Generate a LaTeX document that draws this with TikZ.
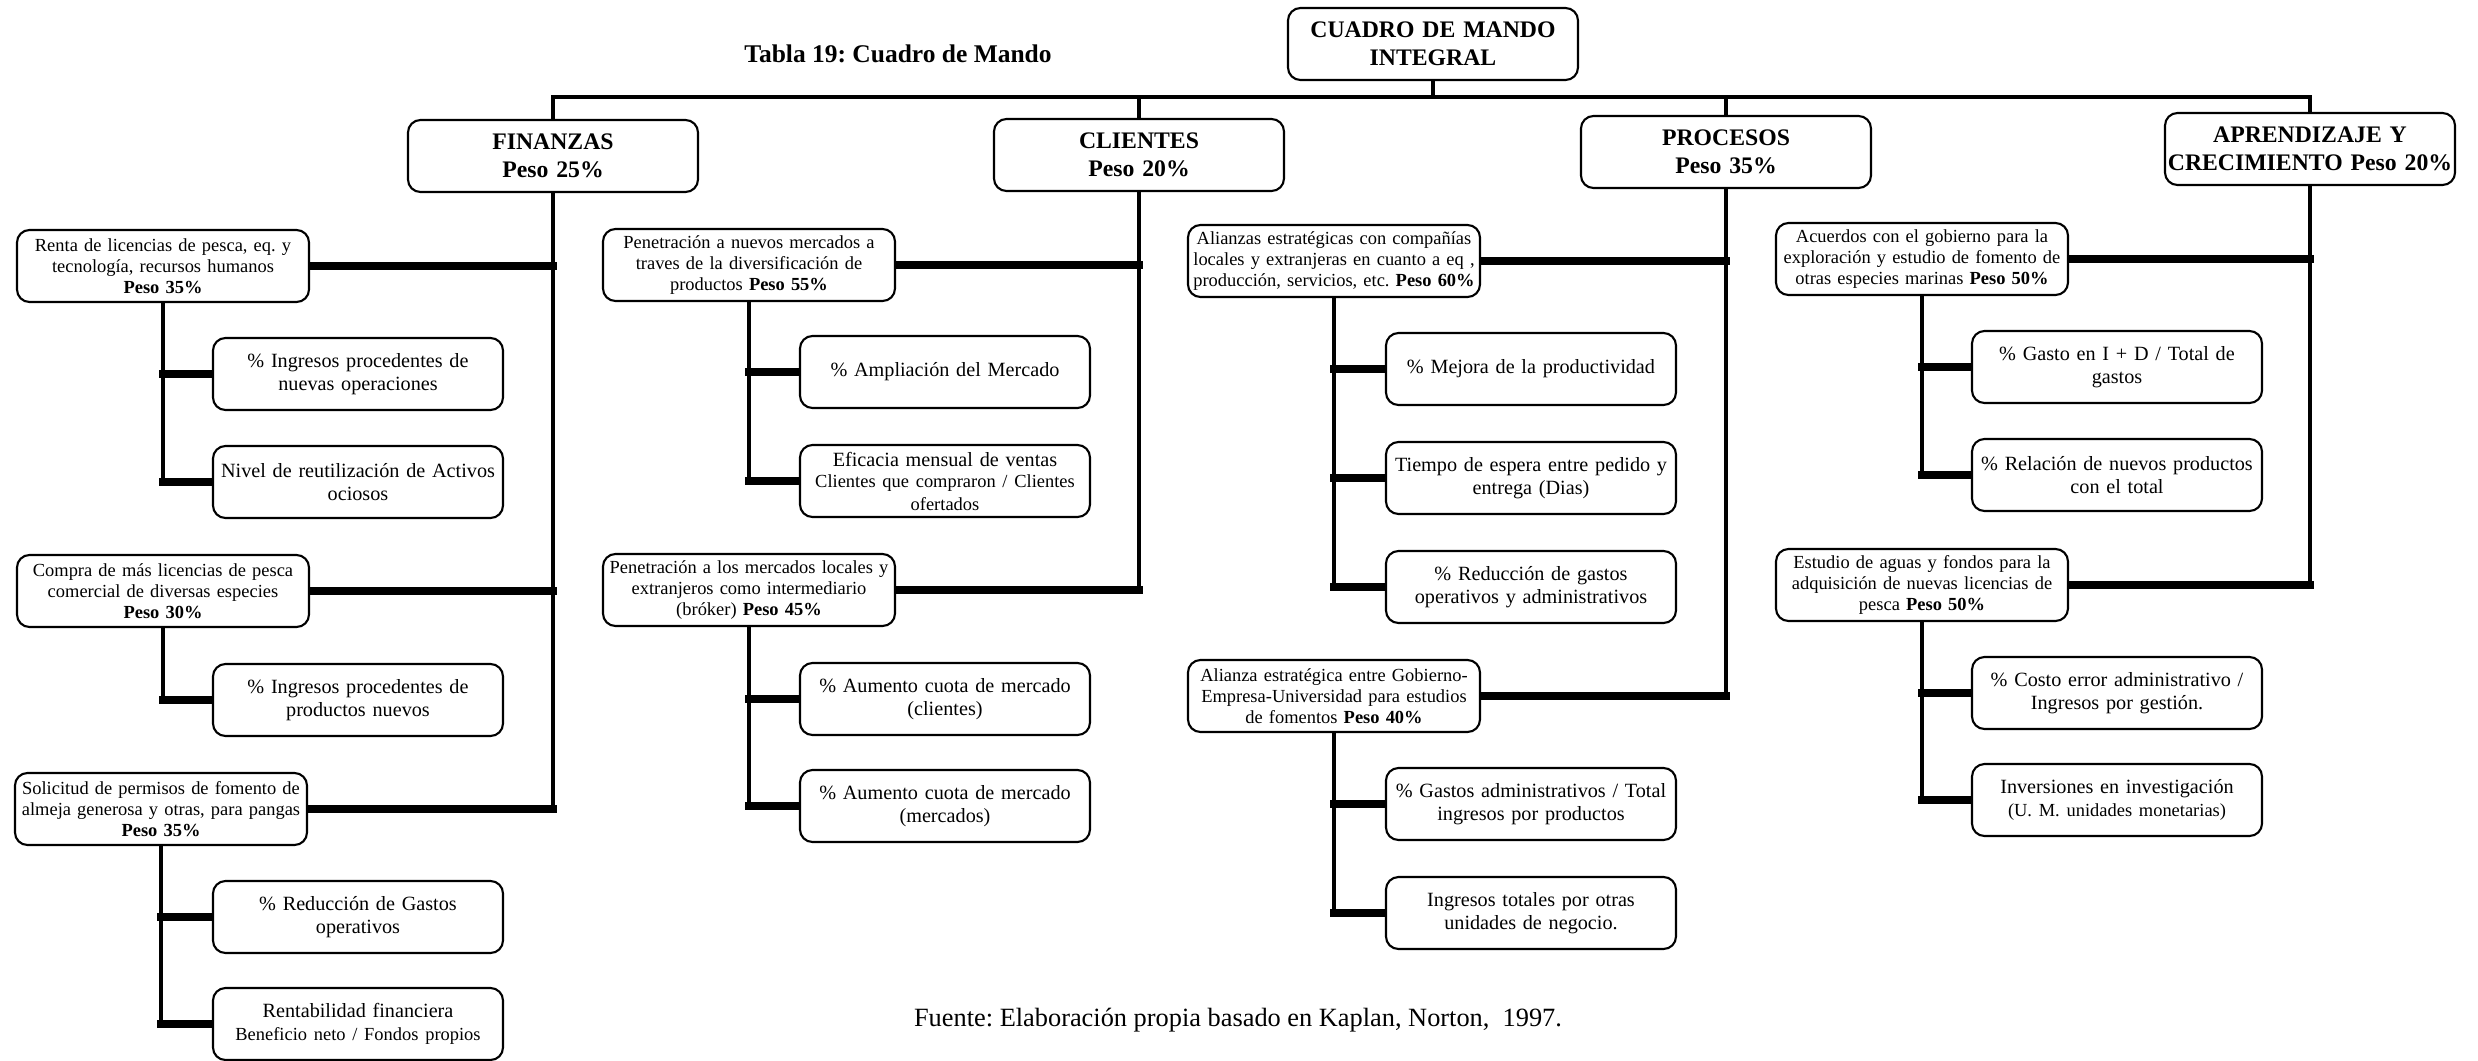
\documentclass[tikz,border=0pt]{standalone}
\usepackage{fontspec}
\setmainfont{Liberation Serif}
\usetikzlibrary{backgrounds}
\tikzset{
  box/.style={draw, line width=1.2pt, rounded corners=2.5mm, fill=white, align=center, minimum height=14.4mm},
  catbox/.style={box, text width=56mm, inner xsep=1mm, font=\bfseries\fontsize{13.5}{16}\selectfont},
  widecat/.style={catbox, text width=57.8mm, inner xsep=0.1mm},
  objbox/.style={box, text width=57.4mm, inner xsep=0.5mm, font=\fontsize{10.5}{12}\selectfont},
  kpibox/.style={box, text width=56mm, inner xsep=1mm, font=\fontsize{11.5}{13}\selectfont},
  trunk/.style={line width=2.6pt},
  branch/.style={line width=4.2pt, line cap=rect},
}
\newcommand{\subline}[1]{{\fontsize{10.5}{12}\selectfont #1}}
\frenchspacing
\begin{document}
\begin{tikzpicture}[x=0.2mm, y=-0.2mm]
\useasboundingbox (0,0) rectangle (2478,1060);
\node[font=\bfseries\fontsize{14.5}{17}\selectfont] (title) at (898,54) {Tabla 19: Cuadro de Mando};
\node[catbox] (root) at (1433,44) {CUADRO DE MANDO\\ INTEGRAL};
\coordinate (bus) at (1433,97);

\node[catbox] (fin) at (553,156) {FINANZAS\\ Peso 25\%};
\node[catbox] (cli) at (1139,155) {CLIENTES\\ Peso 20\%};
\node[catbox] (pro) at (1726,152) {PROCESOS\\ Peso 35\%};
\node[widecat] (apr) at (2310,149) {APRENDIZAJE Y\\ CRECIMIENTO Peso 20\%};

\node[objbox] (renta) at (163,266) {Renta de licencias de pesca, eq. y\\ tecnología, recursos humanos\\ \textbf{Peso 35\%}};
\node[objbox] (compra) at (163,591) {Compra de más licencias de pesca\\ comercial de diversas especies\\ \textbf{Peso 30\%}};
\node[objbox] (solic) at (161,809) {Solicitud de permisos de fomento de\\ almeja generosa y otras, para pangas\\ \textbf{Peso 35\%}};
\node[objbox] (pen1) at (749,265) {Penetración a nuevos mercados a\\ traves de la diversificación de\\ productos \textbf{Peso 55\%}};
\node[objbox] (pen2) at (749,590) {Penetración a los mercados locales y\\ extranjeros como intermediario\\ (bróker) \textbf{Peso 45\%}};
\node[objbox] (ali1) at (1334,261) {Alianzas estratégicas con compañías\\ locales y extranjeras en cuanto a eq ,\\ producción, servicios, etc. \textbf{Peso 60\%}};
\node[objbox] (ali2) at (1334,696) {Alianza estratégica entre Gobierno-\\ Empresa-Universidad para estudios\\ de fomentos \textbf{Peso 40\%}};
\node[objbox] (acu) at (1922,259) {Acuerdos con el gobierno para la\\ exploración y estudio de fomento de\\ otras especies marinas \textbf{Peso 50\%}};
\node[objbox] (est) at (1922,585) {Estudio de aguas y fondos para la\\ adquisición de nuevas licencias de\\ pesca \textbf{Peso 50\%}};

\node[kpibox] (k11) at (358,374) {\% Ingresos procedentes de\\ nuevas operaciones};
\node[kpibox] (k12) at (358,482) {Nivel de reutilización de Activos\\ ociosos};
\node[kpibox] (k21) at (358,700) {\% Ingresos procedentes de\\ productos nuevos};
\node[kpibox] (k31) at (358,917) {\% Reducción de Gastos\\ operativos};
\node[kpibox] (k32) at (358,1024) {Rentabilidad financiera\\ \subline{Beneficio neto / Fondos propios}};
\node[kpibox] (k41) at (945,372) {\% Ampliación del Mercado};
\node[kpibox] (k42) at (945,481) {Eficacia mensual de ventas\\ \subline{Clientes que compraron / Clientes\\ ofertados}};
\node[kpibox] (k51) at (945,699) {\% Aumento cuota de mercado\\ (clientes)};
\node[kpibox] (k52) at (945,806) {\% Aumento cuota de mercado\\ (mercados)};
\node[kpibox] (k61) at (1531,369) {\% Mejora de la productividad};
\node[kpibox] (k62) at (1531,478) {Tiempo de espera entre pedido y\\ entrega (Dias)};
\node[kpibox] (k63) at (1531,587) {\% Reducción de gastos\\ operativos y administrativos};
\node[kpibox] (k71) at (1531,804) {\% Gastos administrativos / Total\\ ingresos por productos};
\node[kpibox] (k72) at (1531,913) {Ingresos totales por otras\\ unidades de negocio.};
\node[kpibox] (k81) at (2117,367) {\% Gasto en I + D / Total de\\ gastos};
\node[kpibox] (k82) at (2117,475) {\% Relación de nuevos productos\\ con el total};
\node[kpibox] (k91) at (2117,693) {\% Costo error administrativo /\\ Ingresos por gestión.};
\node[kpibox] (k92) at (2117,800) {Inversiones en investigación\\ \subline{(U. M. unidades monetarias)}};

\node[font=\fontsize{15}{18}\selectfont] (fuente) at (1238,1020) {Fuente: Elaboración propia basado en Kaplan, Norton,\ \ 1997.};

\begin{scope}[on background layer]
\draw[trunk] (root.south) -- (bus);
\draw[trunk] (fin.north) |- (bus) -| (apr.north);
\draw[trunk] (cli.north) -- (cli.north |- bus);
\draw[trunk] (pro.north) -- (pro.north |- bus);
% perspectivas -> objetivos
\foreach \c/\os/\l in {fin/{renta,compra,solic}/solic, cli/{pen1,pen2}/pen2, pro/{ali1,ali2}/ali2, apr/{acu,est}/est}{
  \draw[trunk] (\c.south) -- (\c.south |- \l.east);
  \foreach \o in \os \draw[branch] (\o.east) -- (\o.east -| \c.south);
}
% objetivos -> indicadores
\foreach \o/\ks/\l in {renta/{k11,k12}/k12, compra/{k21}/k21, solic/{k31,k32}/k32, pen1/{k41,k42}/k42, pen2/{k51,k52}/k52, ali1/{k61,k62,k63}/k63, ali2/{k71,k72}/k72, acu/{k81,k82}/k82, est/{k91,k92}/k92}{
  \draw[trunk] (\o.south) -- (\o.south |- \l.west);
  \foreach \k in \ks \draw[branch] (\k.west) -- (\k.west -| \o.south);
}
\end{scope}
\end{tikzpicture}
\end{document}
